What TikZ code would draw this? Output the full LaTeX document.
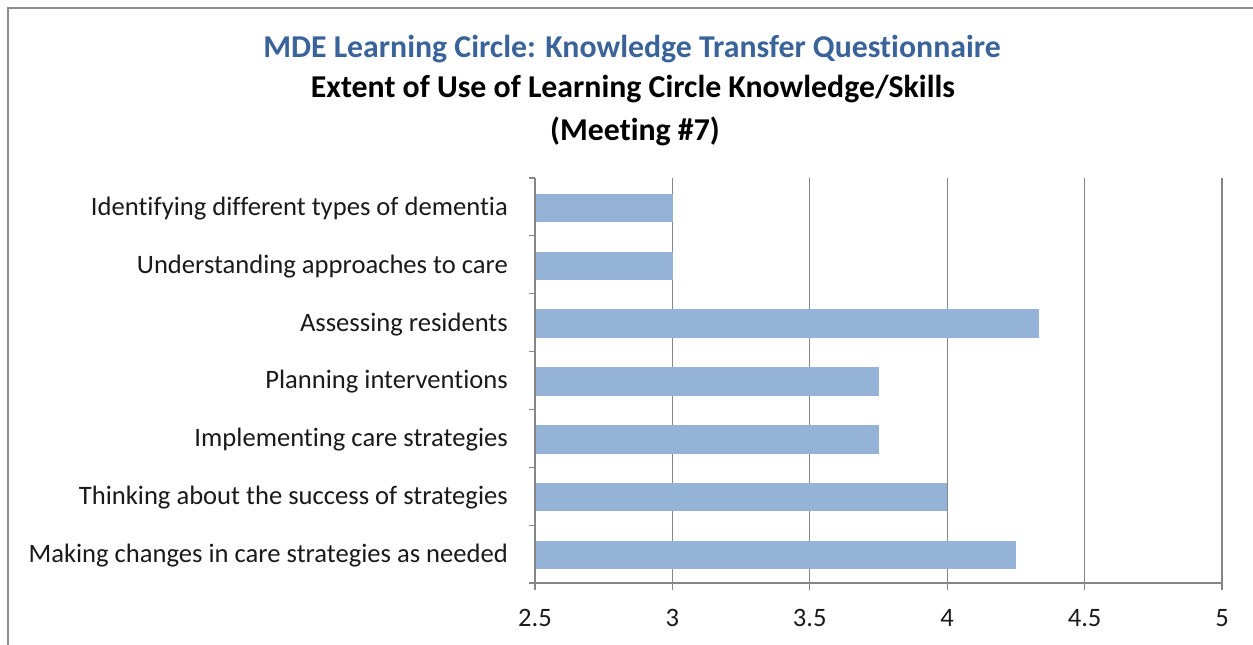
\documentclass[tikz,border=0pt]{standalone}
\usepackage{fontspec}
\setmainfont{Carlito}[RawFeature={-liga;-clig;-calt;-dlig}]
\definecolor{titleblue}{HTML}{3A639A}
\definecolor{barblue}{HTML}{95B3D7}
\definecolor{gridgray}{HTML}{868686}
\definecolor{framegray}{HTML}{8C8C8C}
\definecolor{labelgray}{HTML}{1A1A1A}
\begin{document}
\begin{tikzpicture}[x=1pt,y=-1pt,
  frame/.style={draw=framegray,line width=2.5pt},
  grid/.style={draw=gridgray,line width=1.1pt},
  bar/.style={fill=barblue,draw=none,inner sep=0pt,minimum height=28.5pt,anchor=west},
  catlabel/.style={anchor=east,inner sep=0pt,text=labelgray,font=\fontsize{26.6}{30}\selectfont},
  ticklabel/.style={inner sep=0pt,text=labelgray,font=\fontsize{26.6}{30}\selectfont},
  titleA/.style={inner sep=0pt,text=titleblue,font=\fontsize{31.8}{36}\selectfont\bfseries},
  titleB/.style={inner sep=0pt,text=black,font=\fontsize{31.8}{36}\selectfont\bfseries}]
\useasboundingbox (0,0) rectangle (1253,645);
% frame
\draw[frame] (8,645) -- (8,8) -- (1253,8);
% titles
\node[titleA] (t1) at (632,49) {MDE Learning Circle: Knowledge Transfer Questionnaire};
\node[titleB] (t2) at (633,89) {Extent of Use of Learning Circle Knowledge/Skills};
\node[titleB] (t3) at (635,131) {(Meeting \#7)};
% gridlines and x ticks
\foreach \k/\lab in {0/2.5,1/3,2/3.5,3/4,4/4.5,5/5} {
  \coordinate (gt\k) at ({535+137.4*\k},178);
  \coordinate (gb\k) at ({535+137.4*\k},590);
  \node[ticklabel] (xl\k) at ({535+137.4*\k},618) {\lab};
}
\foreach \k in {1,...,5} { \draw[grid] (gt\k) -- (gb\k); }
% bars
\foreach \i/\v in {1/3,2/3,3/4.333,4/3.75,5/3.75,6/4,7/4.25} {
  \node[bar,minimum width={(\v-2.5)*274.8pt}] (b\i) at (535,{207.9+57.86*(\i-1)}) {};
}
% axes
\draw[grid] (gt0) -- (gb0);
\coordinate (axr) at (1222,583);
\coordinate (axl) at (535,583);
\draw[grid] (axl) -- (axr);
\foreach \j in {0,...,7} {
  \coordinate (ya\j) at (535,{178+57.86*\j});
  \coordinate (yb\j) at (529,{178+57.86*\j});
  \draw[grid] (yb\j) -- (ya\j);
}
% category labels
\node[catlabel] (c1) at (508,208.4) {Identifying different types of dementia};
\node[catlabel] (c2) at (508,266.3) {Understanding approaches to care};
\node[catlabel] (c3) at (508,324.1) {Assessing residents};
\node[catlabel] (c4) at (508,382.0) {Planning interventions};
\node[catlabel] (c5) at (508,439.9) {Implementing care strategies};
\node[catlabel] (c6) at (508,497.7) {Thinking about the success of strategies};
\node[catlabel] (c7) at (508,555.6) {Making changes in care strategies as needed};
\end{tikzpicture}
\end{document}
